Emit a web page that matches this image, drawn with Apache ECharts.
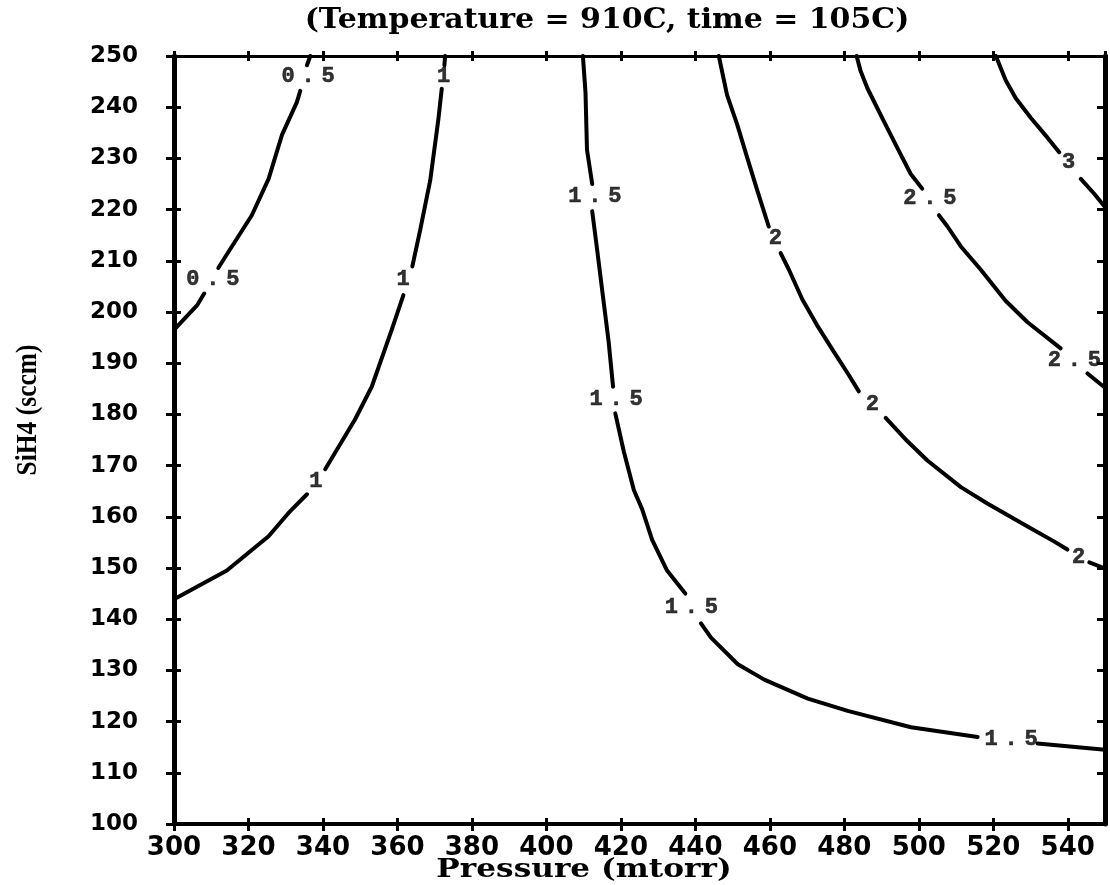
<!DOCTYPE html>
<html>
<head>
<meta charset="utf-8">
<script src="https://cdn.jsdelivr.net/npm/echarts@6/dist/echarts.min.js"></script>
<style>
  html, body { margin: 0; padding: 0; background: #fff; }
  #chart { width: 1110px; height: 885px; }
</style>
</head>
<body>
<div id="chart"></div>
<script>
// Axis ranges (Pressure in mtorr, SiH4 flow in sccm)
const xRange = [300, 550];
const xStep = 20;
const yRange = [100, 250];
const yStep = 10;

const titleText = '(Temperature = 910C, time = 105C)';
const xName = 'Pressure (mtorr)';
const yName = 'SiH4 (sccm)';

// Contour level 0.5 : line pieces (broken where labels sit) and label anchors
const c05Pieces = [
  [[336.6, 250], [335.7, 248.2]],
  [[333.9, 243.2], [333.0, 241.0], [329.0, 234.6], [325.4, 226.0], [320.9, 218.9], [313.7, 210.7], [311.9, 208.6]],
  [[308.1, 203.6], [306.3, 201.4], [300, 196.5]]
];
const c05Labels = [[336.0, 246.0], [310.4, 206.3]];

// Contour level 1
const c1Pieces = [
  [[372.8, 250], [372.6, 248.2]],
  [[371.9, 243.6], [371.0, 237.7], [368.8, 225.7], [366.1, 216.0], [364.0, 208.9]],
  [[361.6, 203.3], [358.5, 196.6], [353.1, 185.4], [348.6, 179.0], [340.6, 169.3]],
  [[335.7, 164.4], [330.7, 160.7], [325.4, 156.2], [314.2, 149.5], [300, 143.9]]
];
const c1Labels = [[372.4, 246.0], [361.5, 206.3], [338.1, 167.0]];

// Contour level 1.5
const c15Pieces = [
  [[409.8, 250], [410.5, 242.9], [410.9, 231.7], [412.3, 225.0]],
  [[412.3, 219.7], [413.6, 212.3], [415.4, 201.8], [416.7, 194.3], [417.9, 185.4]],
  [[418.5, 180.2], [420.8, 172.7], [423.5, 165.2], [425.7, 161.5], [428.4, 155.5], [432.4, 149.5], [437.3, 145.0]],
  [[441.5, 139.2], [444.2, 136.4], [451.4, 131.2], [458.5, 128.2], [470.2, 124.5], [480.9, 122.1], [497.9, 118.9], [515.8, 117.0]],
  [[531.9, 115.7], [550, 114.5]]
];
const c15Labels = [[413.0, 222.6], [418.7, 183.0], [438.9, 142.3], [524.8, 116.6]];

// Contour level 2
const c2Pieces = [
  [[446.3, 250], [448.5, 242.4], [451.2, 236.7], [453.9, 230.2], [456.6, 223.8], [459.7, 216.7]],
  [[462.9, 211.5], [465.1, 208.3], [468.7, 202.5], [472.7, 197.4], [477.2, 192.2], [481.2, 187.7], [483.9, 184.5]],
  [[491.1, 179.3], [496.9, 174.8], [502.3, 171.0], [511.3, 165.8], [518.4, 162.6], [529.2, 158.1], [536.3, 155.2], [539.9, 153.6]],
  [[545.8, 151.1], [550, 149.9]]
];
const c2Labels = [[461.5, 214.3], [487.5, 181.9], [542.9, 152.0]];

// Contour level 2.5
const c25Pieces = [
  [[483.3, 250], [484.4, 247.0], [486.2, 243.7], [490.6, 237.3], [494.2, 232.1], [497.8, 227.0], [500.9, 224.1]],
  [[505.4, 218.9], [507.7, 216.7], [511.3, 212.8], [516.6, 208.3], [523.3, 202.2], [529.2, 198.0], [538.1, 192.9]],
  [[545.3, 188.0], [550, 185.2]]
];
const c25Labels = [[503.0, 222.2], [541.8, 190.6]];

// Contour level 3
const c3Pieces = [
  [[520.7, 250], [523.3, 245.3], [526.0, 241.8], [530.1, 237.9], [534.5, 234.1], [537.7, 231.2]],
  [[543.5, 226.0], [547.1, 223.1], [550, 220.5]]
];
const c3Labels = [[540.2, 229.2]];

const contours = [
  { level: '0.5', pieces: c05Pieces, labels: c05Labels },
  { level: '1',   pieces: c1Pieces,  labels: c1Labels },
  { level: '1.5', pieces: c15Pieces, labels: c15Labels },
  { level: '2',   pieces: c2Pieces,  labels: c2Labels },
  { level: '2.5', pieces: c25Pieces, labels: c25Labels },
  { level: '3',   pieces: c3Pieces,  labels: c3Labels }
];

const INK = '#000';

// Contour labels are drawn in fixed-width cells, like a plotter's monospaced lettering
function cellText(level) {
  return level.split('').map(function (ch) { return '{c|' + ch + '}'; }).join('');
}

const series = [];
contours.forEach(function (c) {
  c.pieces.forEach(function (piece, i) {
    series.push({
      name: 'level ' + c.level + ' #' + i,
      type: 'line',
      data: piece,
      symbol: 'none',
      smooth: false,
      silent: true,
      lineStyle: { color: INK, width: 4, cap: 'round', join: 'round' },
      z: 3
    });
  });
  series.push({
    name: 'label ' + c.level,
    type: 'scatter',
    data: c.labels,
    symbol: 'circle',
    symbolSize: 1,
    silent: true,
    itemStyle: { color: 'rgba(0,0,0,0)' },
    label: {
      show: true,
      position: 'inside',
      formatter: cellText(c.level),
      rich: {
        c: {
          width: 20, align: 'center', color: INK,
          textBorderColor: INK, textBorderWidth: 0.6,
          fontFamily: 'Liberation Mono', fontWeight: 'bold', fontSize: 22
        }
      }
    },
    z: 4
  });
});

function axisBase(min, max, step, pos) {
  return {
    type: 'value', position: pos, min: min, max: max, interval: step,
    splitLine: { show: false },
    axisLine: { show: false, onZero: false, lineStyle: { color: INK, width: 4 } },
    axisTick: { show: true, inside: false, length: 6, lineStyle: { color: INK, width: 3 } },
    axisLabel: { show: false }
  };
}

const xMain = axisBase(xRange[0], xRange[1], xStep, 'bottom');
xMain.axisLine.show = true;
xMain.axisTick.length = 7;
xMain.axisLabel = {
  show: true, margin: 11, showMaxLabel: false, color: INK,
  fontFamily: 'DejaVu Sans', fontWeight: 'bold', fontSize: 26
};
const xBottomIn = axisBase(xRange[0], xRange[1], xStep, 'bottom');
xBottomIn.axisTick.inside = true;
const xTop = axisBase(xRange[0], xRange[1], xStep, 'top');
xTop.axisLine.show = true;
xTop.axisLine.lineStyle.width = 3;
xTop.axisTick.length = 5;
const xTopIn = axisBase(xRange[0], xRange[1], xStep, 'top');
xTopIn.axisTick.inside = true;
xTopIn.axisTick.length = 5;

const yMain = axisBase(yRange[0], yRange[1], yStep, 'left');
yMain.axisLine.show = true;
yMain.axisLine.lineStyle.width = 5;
yMain.axisTick.length = 8;
yMain.axisLabel = {
  show: true, margin: 36, color: INK,
  fontFamily: 'DejaVu Sans', fontWeight: 'bold', fontSize: 23
};
const yLeftIn = axisBase(yRange[0], yRange[1], yStep, 'left');
yLeftIn.axisTick.inside = true;
yLeftIn.axisTick.length = 7;
const yRight = axisBase(yRange[0], yRange[1], yStep, 'right');
yRight.axisLine.show = true;
yRight.axisLine.lineStyle.width = 5;
yRight.axisTick.inside = true;
yRight.axisTick.length = 8;

const chart = echarts.init(document.getElementById('chart'), null, { renderer: 'canvas' });
chart.setOption({
  animation: false,
  backgroundColor: '#fff',
  grid: { left: 174, right: 5, top: 56, bottom: 61, outerBoundsMode: 'none' },
  xAxis: [xMain, xBottomIn, xTop, xTopIn],
  yAxis: [yMain, yLeftIn, yRight],
  series: series,
  graphic: [
    {
      type: 'text', x: 607, y: 21, scaleX: 1.07,
      style: {
        text: titleText, fill: INK, textAlign: 'center', textVerticalAlign: 'middle',
        font: 'bold 28px "DejaVu Serif"'
      }
    },
    {
      type: 'text', x: 584, y: 870, scaleX: 1.2,
      style: {
        text: xName, fill: INK, textAlign: 'center', textVerticalAlign: 'middle',
        font: 'bold 26px "DejaVu Serif"'
      }
    },
    {
      type: 'text', x: 28, y: 410, rotation: Math.PI / 2, scaleX: 0.85,
      style: {
        text: yName, fill: INK, textAlign: 'center', textVerticalAlign: 'middle',
        font: 'bold 30px "Liberation Serif"'
      }
    }
  ]
});
</script>
</body>
</html>
